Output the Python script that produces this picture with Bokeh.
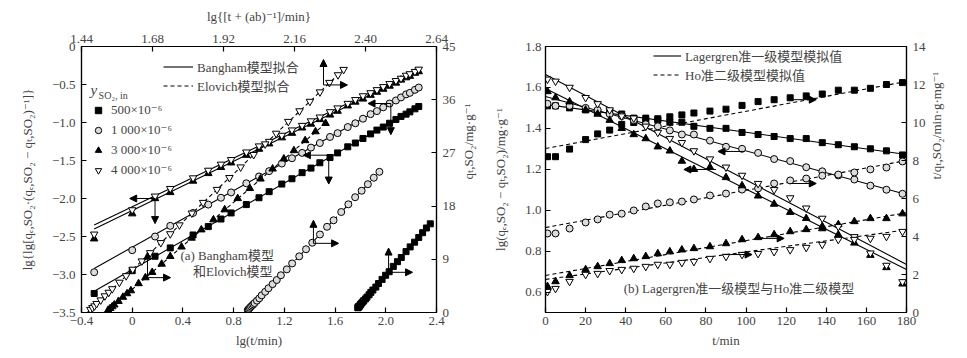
import numpy as np
from bokeh.plotting import figure
from bokeh.models import (Range1d, LinearAxis, FixedTicker, CustomJSTickFormatter, Label,
                          Arrow, NormalHead, Legend, LegendItem)
from bokeh.layouts import row
from bokeh.embed import file_html
from bokeh.resources import INLINE

FONT = "Liberation Serif, DejaVu Serif, Noto Sans CJK SC"

# ---------------- (a) Bangham (bottom/left axes) ----------------
bangham_lgt = [-0.30, 0.00, 0.18, 0.30, 0.48, 0.60, 0.70, 0.78, 0.90, 1.00, 1.08, 1.18, 1.26, 1.34, 1.41,
               1.48, 1.56, 1.62, 1.70, 1.76, 1.82, 1.88, 1.93, 1.98, 2.03, 2.08, 2.12, 2.16, 2.19, 2.23, 2.26]
bangham_500 = [-3.25, -2.95, -2.76, -2.65, -2.48, -2.37, -2.27, -2.19, -2.08, -1.99, -1.91, -1.81, -1.74, -1.66,
               -1.60, -1.53, -1.46, -1.40, -1.32, -1.27, -1.21, -1.15, -1.10, -1.06, -1.01, -0.96, -0.92, -0.89,
               -0.86, -0.82, -0.79]
bangham_1000 = [-2.97, -2.68, -2.50, -2.36, -2.19, -2.08, -1.99, -1.92, -1.80, -1.71, -1.64, -1.54, -1.47, -1.40,
                -1.33, -1.27, -1.19, -1.14, -1.06, -1.01, -0.95, -0.89, -0.85, -0.80, -0.75, -0.71, -0.67, -0.63,
                -0.61, -0.57, -0.54]
bangham_3000 = [-2.53, -2.20, -2.00, -1.92, -1.77, -1.67, -1.59, -1.53, -1.43, -1.35, -1.28, -1.20, -1.14, -1.07,
                -1.02, -0.96, -0.90, -0.85, -0.78, -0.73, -0.69, -0.64, -0.60, -0.56, -0.52, -0.48, -0.44, -0.41,
                -0.39, -0.35, -0.33]
bangham_4000 = [-2.47, -2.15, -1.97, -1.87, -1.73, -1.63, -1.55, -1.49, -1.39, -1.31, -1.25, -1.17, -1.10, -1.04,
                -0.98, -0.93, -0.86, -0.81, -0.75, -0.70, -0.65, -0.61, -0.57, -0.53, -0.49, -0.45, -0.42, -0.38,
                -0.36, -0.33, -0.30]
bangham_fit_x = [-0.30, 2.26]
bangham_fit_500 = [-3.22, -0.79]
bangham_fit_1000 = [-2.92, -0.54]
bangham_fit_3000 = [-2.40, -0.33]
bangham_fit_4000 = [-2.35, -0.30]

# ---------------- (a) Elovich (top/right axes) ----------------
elovich_500_x = [2.374, 2.375, 2.376, 2.377, 2.378, 2.380, 2.382, 2.384, 2.387, 2.391, 2.394, 2.400, 2.405, 2.412,
                 2.418, 2.425, 2.435, 2.444, 2.456, 2.468, 2.480, 2.494, 2.508, 2.521, 2.537, 2.551, 2.566, 2.580,
                 2.593, 2.606, 2.619]
elovich_500_q = [0.8, 0.9, 0.9, 1.0, 1.0, 1.1, 1.3, 1.4, 1.6, 1.8, 2.0, 2.3, 2.6, 3.0, 3.4, 3.8, 4.3, 4.9, 5.6,
                 6.3, 6.9, 7.8, 8.6, 9.3, 10.3, 11.1, 11.9, 12.7, 13.5, 14.3, 15.0]
elovich_1000_x = [2.002, 2.004, 2.006, 2.009, 2.013, 2.017, 2.021, 2.025, 2.033, 2.041, 2.049, 2.061, 2.072, 2.086,
                  2.100, 2.114, 2.134, 2.152, 2.176, 2.199, 2.220, 2.246, 2.270, 2.292, 2.318, 2.342, 2.365, 2.387,
                  2.408, 2.428, 2.447]
elovich_1000_q = [0.4, 0.5, 0.6, 0.8, 1.0, 1.2, 1.4, 1.6, 2.0, 2.4, 2.9, 3.5, 4.1, 4.8, 5.5, 6.3, 7.3, 8.3, 9.5,
                  10.7, 11.8, 13.2, 14.5, 15.6, 17.0, 18.3, 19.5, 20.6, 21.7, 22.8, 23.8]
elovich_3000_x = [1.530, 1.537, 1.544, 1.551, 1.565, 1.580, 1.594, 1.607, 1.633, 1.656, 1.679, 1.711, 1.740, 1.778,
                  1.812, 1.845, 1.886, 1.924, 1.968, 2.009, 2.045, 2.086, 2.124, 2.158, 2.196, 2.231, 2.265]
elovich_3000_q = [0.4, 0.7, 1.0, 1.3, 1.9, 2.6, 3.2, 3.7, 4.9, 5.9, 6.8, 8.2, 9.5, 11.1, 12.6, 14.0, 15.7, 17.4,
                  19.3, 21.0, 22.6, 24.3, 26.0, 27.4, 29.1, 30.6, 32.0]
elovich_4000_x = [1.470, 1.477, 1.484, 1.491, 1.505, 1.519, 1.532, 1.544, 1.568, 1.591, 1.613, 1.644, 1.672, 1.708,
                  1.740, 1.771, 1.813, 1.851, 1.898, 1.940, 1.978, 2.022, 2.061, 2.098, 2.139, 2.177, 2.212, 2.246,
                  2.278, 2.307, 2.326]
elovich_4000_q = [0.5, 0.8, 1.1, 1.5, 2.1, 2.8, 3.4, 4.0, 5.1, 6.2, 7.3, 8.7, 10.1, 11.8, 13.3, 14.8, 16.8, 18.6,
                  20.8, 22.8, 24.6, 26.7, 28.5, 30.3, 32.3, 34.1, 35.7, 37.3, 38.9, 40.2, 41.1]
elovich_fit_500_x, elovich_fit_500_q = [2.370, 2.620], [0.6, 15.1]
elovich_fit_1000_x, elovich_fit_1000_q = [2.000, 2.450], [0.3, 23.9]
elovich_fit_3000_x, elovich_fit_3000_q = [1.520, 2.270], [0.0, 32.2]
elovich_fit_4000_x, elovich_fit_4000_q = [1.460, 2.330], [0.0, 41.3]

# ---------------- (b) Lagergren (left) / Ho (right) ----------------
t_min = [1, 5, 12, 20, 26, 32, 38, 44, 50, 56, 62, 68, 74, 82, 90, 98, 106, 114, 122, 130, 138, 146, 154, 162,
         170, 178]
lag_500 = [1.51, 1.51, 1.50, 1.49, 1.48, 1.48, 1.47, 1.45, 1.45, 1.44, 1.43, 1.43, 1.41, 1.40, 1.40, 1.38, 1.37,
           1.36, 1.35, 1.35, 1.33, 1.32, 1.31, 1.30, 1.29, 1.27]
lag_1000 = [1.52, 1.51, 1.51, 1.50, 1.49, 1.47, 1.46, 1.44, 1.42, 1.41, 1.39, 1.37, 1.37, 1.34, 1.31, 1.30, 1.28,
            1.25, 1.24, 1.21, 1.19, 1.17, 1.15, 1.12, 1.10, 1.08]
lag_3000 = [1.58, 1.55, 1.53, 1.49, 1.47, 1.44, 1.40, 1.37, 1.35, 1.31, 1.29, 1.24, 1.20, 1.21, 1.16, 1.12, 1.07,
            1.03, 0.99, 0.96, 0.91, 0.88, 0.84, 0.78, 0.72, 0.64]
lag_4000 = [1.64, 1.63, 1.60, 1.55, 1.52, 1.49, 1.46, 1.45, 1.41, 1.38, 1.35, 1.33, 1.29, 1.25, 1.21, 1.17, 1.13,
            1.10, 1.06, 1.01, 0.96, 0.92, 0.87, 0.79, 0.73, 0.65]
ho_500 = [8.2, 8.2, 8.6, 9.1, 9.4, 9.6, 9.9, 10.0, 10.1, 10.2, 10.3, 10.4, 10.5, 10.6, 10.7, 10.9, 11.1, 11.2,
          11.3, 11.4, 11.5, 11.7, 11.7, 11.8, 12.0, 12.1]
ho_1000 = [4.16, 4.16, 4.42, 4.74, 4.90, 5.15, 5.20, 5.37, 5.58, 5.74, 5.80, 5.84, 5.95, 6.16, 6.26, 6.47, 6.53,
           6.79, 6.95, 7.05, 7.20, 7.26, 7.37, 7.53, 7.63, 7.95]
ho_3000 = [1.37, 1.63, 1.95, 2.26, 2.42, 2.58, 2.74, 2.84, 2.95, 3.10, 3.20, 3.30, 3.37, 3.47, 3.63, 3.84, 3.95,
           4.10, 4.26, 4.37, 4.53, 4.63, 4.79, 4.95, 4.95, 5.20]
ho_4000 = [1.10, 1.26, 1.63, 2.00, 2.05, 2.20, 2.26, 2.32, 2.42, 2.53, 2.53, 2.63, 2.68, 2.84, 2.95, 3.05, 3.10,
           3.20, 3.30, 3.42, 3.58, 3.84, 3.84, 3.90, 4.00, 4.26]
fit_t = [0, 180]
lag_fit_500 = [1.517, 1.272]
lag_fit_1000 = [1.556, 1.077]
lag_fit_3000 = [1.595, 0.710]
lag_fit_4000 = [1.663, 0.735]
ho_fit_500 = [8.63, 12.16]
ho_fit_1000 = [4.47, 8.00]
ho_fit_3000 = [1.95, 5.25]
ho_fit_4000 = [1.74, 4.35]

series_labels = ["500×10⁻⁶", "1 000×10⁻⁶", "3 000×10⁻⁶", "4 000×10⁻⁶"]

MARK = [dict(marker="square", size=6, fill_color="black", line_color="black"),
        dict(marker="circle", size=7, fill_color="#dcdcdc", line_color="black", line_width=1),
        dict(marker="triangle", size=7.5, fill_color="black", line_color="black"),
        dict(marker="inverted_triangle", size=7.5, fill_color="white", line_color="black", line_width=1)]

HAS_ORIENT = "axis_label_orientation" in LinearAxis.properties()


def fmt(dec):
    return CustomJSTickFormatter(code="""
        if (Math.abs(tick) < 1e-9) { return '0'; }
        return tick.toFixed(%d).replace('-', '\u2212');
    """ % dec)


def style_axis(ax, ticks, dec, label_standoff=5, axis_standoff=5, label=None, flip=False):
    ax.ticker = FixedTicker(ticks=ticks)
    ax.formatter = fmt(dec)
    ax.major_tick_in = 5
    ax.major_tick_out = 0
    ax.minor_tick_line_color = None
    ax.axis_line_width = 1.2
    ax.major_tick_line_width = 1.2
    ax.major_label_text_font = FONT
    ax.major_label_text_font_size = "13px"
    ax.major_label_standoff = label_standoff
    ax.axis_label_text_font = FONT
    ax.axis_label_text_font_size = "13px"
    ax.axis_label_text_font_style = "normal"
    ax.axis_label_standoff = axis_standoff
    if label is not None:
        ax.axis_label = label
    if flip and HAS_ORIENT:
        ax.axis_label_orientation = np.pi / 2


def base_fig(fw, fh, xr, yr, bl, br):
    p = figure(frame_width=fw, frame_height=fh, x_range=xr, y_range=yr, output_backend="svg",
               toolbar_location=None, min_border_left=bl, min_border_right=br, min_border_top=46,
               min_border_bottom=40, background_fill_color="white", border_fill_color="white")
    p.grid.visible = False
    p.outline_line_color = "black"
    p.outline_line_width = 1.2
    return p


def arrow(p, x0, y0, x1, y1, **kw):
    p.add_layout(Arrow(end=NormalHead(size=7, fill_color="black", line_color="black"),
                       x_start=x0, y_start=y0, x_end=x1, y_end=y1, line_width=1, line_color="black", **kw))


def label(p, x, y, text, size="13px", align="left", style="normal", **kw):
    p.add_layout(Label(x=x, y=y, text=text, text_font=FONT, text_font_size=size, text_align=align,
                       text_baseline="middle", text_font_style=style, **kw))


# ======================= Panel (a) =======================
p1 = base_fig(355, 266, Range1d(-0.4, 2.4), Range1d(-3.5, 0), 81, 54)
p1.extra_x_ranges = {"top": Range1d(1.44, 2.64)}
p1.extra_y_ranges = {"right": Range1d(0, 45)}
p1.add_layout(LinearAxis(x_range_name="top"), "above")
p1.add_layout(LinearAxis(y_range_name="right"), "right")
style_axis(p1.below[0], [-0.4, 0, 0.4, 0.8, 1.2, 1.6, 2.0, 2.4], 1, 4, 5, label="lg(t/min)")
style_axis(p1.left[0], [-3.5, -3.0, -2.5, -2.0, -1.5, -1.0, -0.5, 0], 1, 6, 14,
           label="lg{lg[qₑ,SO₂·(qₑ,SO₂ − qₜ,SO₂)⁻¹]}")
style_axis(p1.above[0], [1.44, 1.68, 1.92, 2.16, 2.40, 2.64], 2, 4, 8, label="lg{[t + (ab)⁻¹]/min}")
style_axis(p1.right[0], [0, 9, 18, 27, 36, 45], 0, 6, 10, label="qₜ,SO₂/mg·g⁻¹", flip=True)

b_data = [bangham_500, bangham_1000, bangham_3000, bangham_4000]
b_fits = [bangham_fit_500, bangham_fit_1000, bangham_fit_3000, bangham_fit_4000]
e_data = [(elovich_500_x, elovich_500_q), (elovich_1000_x, elovich_1000_q),
          (elovich_3000_x, elovich_3000_q), (elovich_4000_x, elovich_4000_q)]
e_fits = [(elovich_fit_500_x, elovich_fit_500_q), (elovich_fit_1000_x, elovich_fit_1000_q),
          (elovich_fit_3000_x, elovich_fit_3000_q), (elovich_fit_4000_x, elovich_fit_4000_q)]

b_line_r, e_line_r, b_mark_r = [], [], []
for i in range(4):
    b_line_r.append(p1.line(bangham_fit_x, b_fits[i], line_color="black", line_width=1.1))
    e_line_r.append(p1.line(e_fits[i][0], e_fits[i][1], line_color="black", line_width=1.1, line_dash="4 3",
                            x_range_name="top", y_range_name="right"))
for i in range(4):
    b_mark_r.append(p1.scatter(bangham_lgt, b_data[i], **MARK[i]))
    p1.scatter(e_data[i][0], e_data[i][1], x_range_name="top", y_range_name="right", **MARK[i])

leg_fit1 = Legend(items=[LegendItem(label="Bangham模型拟合", renderers=[b_line_r[0]]),
                         LegendItem(label="Elovich模型拟合", renderers=[e_line_r[0]])],
                  location=(82, 217), orientation="vertical", glyph_width=30, glyph_height=17,
                  label_height=17, label_standoff=4, spacing=0, padding=0, margin=0,
                  background_fill_alpha=0, border_line_color=None,
                  label_text_font=FONT, label_text_font_size="13px")
p1.add_layout(leg_fit1)
leg_ser = Legend(items=[LegendItem(label=series_labels[i], renderers=[b_mark_r[i]]) for i in range(4)],
                 location=(9, 132), orientation="vertical", glyph_width=16, glyph_height=20,
                 label_height=20, label_standoff=5, spacing=0, padding=0, margin=0,
                 background_fill_alpha=0, border_line_color=None,
                 label_text_font=FONT, label_text_font_size="13px")
p1.add_layout(leg_ser)
label(p1, -0.33, -0.57, "y", size="15px", style="italic")
label(p1, -0.265, -0.64, "SO₂, in", size="10px")
label(p1, 0.38, -2.75, "(a) Bangham模型")
label(p1, 0.48, -2.96, "和Elovich模型")

# Bangham arrows (left & down)
for (x0, y0, xl, yd) in [(0.18, -2.0, -0.02, -2.33), (2.04, -0.75, 1.86, -1.16), (1.55, -1.43, 1.35, -1.81)]:
    arrow(p1, x0, y0, xl, y0)
    arrow(p1, x0, y0, x0, yd)
# Elovich arrows (up & right)
for (x0, y0, xr, yu) in [(2.258, 38.5, 2.339, 42.8), (1.663, 5.9, 1.741, 10.2), (2.224, 11.7, 2.309, 15.6),
                         (2.478, 6.8, 2.559, 10.9)]:
    arrow(p1, x0, y0, xr, y0, x_range_name="top", y_range_name="right")
    arrow(p1, x0, y0, x0, yu, x_range_name="top", y_range_name="right")

# ======================= Panel (b) =======================
p2 = base_fig(361, 266, Range1d(0, 180), Range1d(0.5, 1.8), 55, 61)
p2.extra_y_ranges = {"right": Range1d(0, 14)}
p2.add_layout(LinearAxis(y_range_name="right"), "right")
style_axis(p2.below[0], list(range(0, 181, 20)), 0, 4, 5, label="t/min")
style_axis(p2.left[0], [0.6, 0.8, 1.0, 1.2, 1.4, 1.6, 1.8], 1, 4, 14, label="lg(qₑ,SO₂ − qₜ,SO₂)/mg·g⁻¹")
style_axis(p2.right[0], list(range(0, 15, 2)), 0, 6, 8, label="t/qₜ,SO₂/min·g·mg⁻¹", flip=True)

l_data = [lag_500, lag_1000, lag_3000, lag_4000]
l_fits = [lag_fit_500, lag_fit_1000, lag_fit_3000, lag_fit_4000]
h_data = [ho_500, ho_1000, ho_3000, ho_4000]
h_fits = [ho_fit_500, ho_fit_1000, ho_fit_3000, ho_fit_4000]
l_line_r, h_line_r = [], []
for i in range(4):
    l_line_r.append(p2.line(fit_t, l_fits[i], line_color="black", line_width=1.1))
    h_line_r.append(p2.line(fit_t, h_fits[i], line_color="black", line_width=1.1, line_dash="4 3",
                            y_range_name="right"))
for i in range(4):
    p2.scatter(t_min, l_data[i], **MARK[i])
    p2.scatter(t_min, h_data[i], y_range_name="right", **MARK[i])

leg_fit2 = Legend(items=[LegendItem(label="Lagergren准一级模型模拟值", renderers=[l_line_r[0]]),
                         LegendItem(label="Ho准二级模型模拟值", renderers=[h_line_r[0]])],
                  location=(108, 228), orientation="vertical", glyph_width=28, glyph_height=17,
                  label_height=17, label_standoff=4, spacing=0, padding=0, margin=0,
                  background_fill_alpha=0, border_line_color=None,
                  label_text_font=FONT, label_text_font_size="13px")
p2.add_layout(leg_fit2)
label(p2, 39, 0.617, "(b) Lagergren准一级模型与Ho准二级模型")

for (x0, x1, y) in [(99, 86, 1.287), (85, 69, 1.199)]:
    arrow(p2, x0, y, x1, y)
for (x0, x1, y) in [(122, 135, 6.79), (104, 119, 3.9), (89, 103, 3.05), (122, 135, 11.2)]:
    arrow(p2, x0, y, x1, y, y_range_name="right")

layout = row(p1, p2)
open("out.html", "w").write(file_html(layout, INLINE))
